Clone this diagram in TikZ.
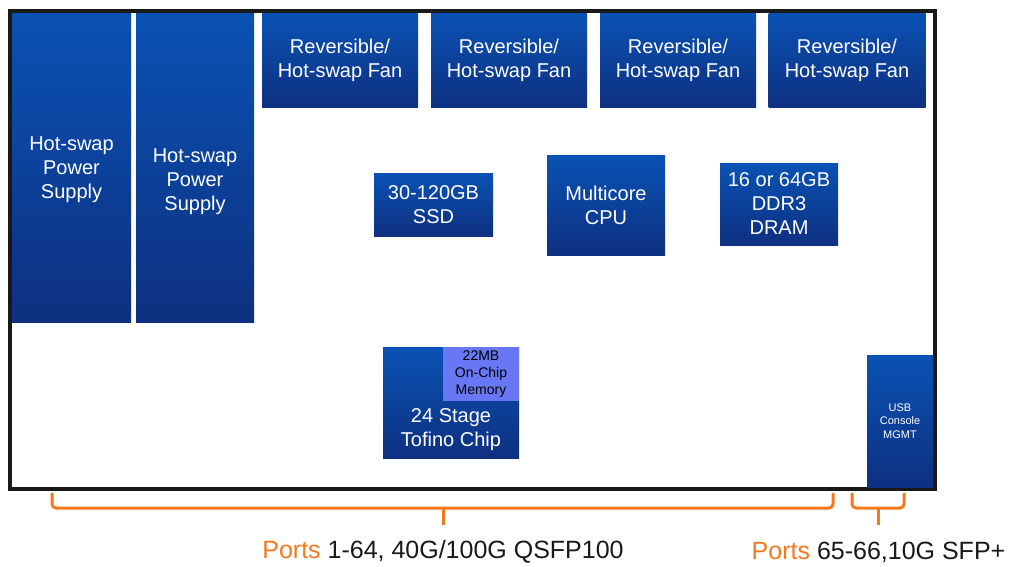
\documentclass[tikz,border=0pt]{standalone}
\usepackage{fontspec}
\setmainfont{Liberation Sans}
\definecolor{parttop}{RGB}{10,82,180}
\definecolor{partbot}{RGB}{14,48,128}
\definecolor{memblue}{RGB}{104,120,245}
\definecolor{portorange}{RGB}{245,120,30}
\tikzset{
  part/.style={top color=parttop, bottom color=partbot, text=white,
    align=center, inner sep=0pt, outer sep=0pt,
    font=\fontsize{20}{24}\selectfont},
  partlabel/.style={text=white, align=center, inner sep=0pt,
    font=\fontsize{20}{24}\selectfont},
  brace/.style={portorange, line width=3pt, rounded corners=4pt},
  portlabel/.style={font=\fontsize{25}{28}\selectfont, text=black!90},
}
\begin{document}
\begin{tikzpicture}[x=1pt,y=-1pt]
  \useasboundingbox (0,0) rectangle (1011,566);

  % Chassis outline
  \draw[line width=4pt, black!90] (10,11) rectangle (935,489);

  % Power supplies
  \node[part, minimum width=119, minimum height=309,
    label={[partlabel, yshift=-2]center:Hot-swap\\Power\\Supply}] (psu1) at (71.5,167.5) {};
  \node[part, minimum width=118, minimum height=309,
    label={[partlabel, yshift=-14]center:Hot-swap\\Power\\Supply}] (psu2) at (195,167.5) {};

  % Fans
  \node[part, minimum width=156, minimum height=94] (fan1) at (340,60) {Reversible/\\Hot-swap Fan};
  \node[part, minimum width=156, minimum height=94] (fan2) at (509,60) {Reversible/\\Hot-swap Fan};
  \node[part, minimum width=156, minimum height=94] (fan3) at (678,60) {Reversible/\\Hot-swap Fan};
  \node[part, minimum width=157, minimum height=94] (fan4) at (847,60) {Reversible/\\Hot-swap Fan};

  % Storage, CPU and memory
  \node[part, minimum width=119, minimum height=63] (ssd) at (433.5,204.5) {30-120GB\\SSD};
  \node[part, minimum width=118, minimum height=100] (cpu) at (606,205) {Multicore\\CPU};
  \node[part, minimum width=118, minimum height=82] (dram) at (779,204) {16 or 64GB\\DDR3\\DRAM};

  % Switch chip
  \node[part, minimum width=136, minimum height=111,
    label={[partlabel, yshift=-27]center:24 Stage\\Tofino Chip}] (tofino) at (451,402.5) {};
  \node[fill=memblue, minimum width=76, minimum height=54, inner sep=0pt, outer sep=0pt,
    align=center, font=\fontsize{14}{17}\selectfont] (sram) at (481,374) {22MB\\On-Chip\\Memory};

  % Management ports
  \node[part, minimum width=66, minimum height=132,
    font=\fontsize{11}{13.5}\selectfont] (usb) at (900,421) {USB\\Console\\MGMT};

  % Port labels
  \node[portlabel] (qsfp) at (443,552) {\textcolor{portorange}{Ports} 1-64, 40G/100G QSFP100};
  \node[portlabel] (sfp) at (878.5,552) {\textcolor{portorange}{Ports} 65-66,10G SFP+};

  % Braces
  \coordinate (qsfpL) at (52,493);
  \coordinate (qsfpR) at (833,493);
  \coordinate (sfpL) at (852,493);
  \coordinate (sfpR) at (904,493);
  \draw[brace] (qsfpL) -- (52,508) -- (833,508) -- (qsfpR);
  \draw[brace] (443,508) -- (443,525);
  \draw[brace] (sfpL) -- (852,508) -- (904,508) -- (sfpR);
  \draw[brace] (878,508) -- (878,525);
\end{tikzpicture}
\end{document}
